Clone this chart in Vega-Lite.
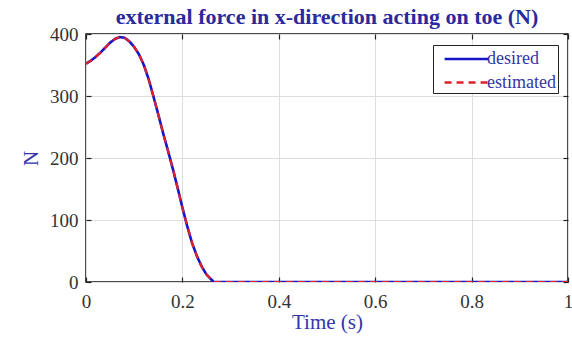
{
  "$schema": "https://vega.github.io/schema/vega-lite/v6.json",
  "autosize": {"type": "none"},
  "padding": {"left": 86, "top": 34, "right": 4, "bottom": 56},
  "width": 482,
  "height": 248,
  "background": "white",
  "title": {
    "text": "external force in x-direction acting on toe (N)",
    "font": "Liberation Serif",
    "fontSize": 22,
    "fontWeight": "bold",
    "color": "#2a2a9c",
    "offset": -4,
    "anchor": "middle"
  },
  "datasets": {
    "force": [
      {"t": 0.0, "v": 352, "series": "desired"},
      {"t": 0.01, "v": 357, "series": "desired"},
      {"t": 0.02, "v": 363, "series": "desired"},
      {"t": 0.03, "v": 370, "series": "desired"},
      {"t": 0.04, "v": 378, "series": "desired"},
      {"t": 0.05, "v": 386, "series": "desired"},
      {"t": 0.06, "v": 392, "series": "desired"},
      {"t": 0.07, "v": 395, "series": "desired"},
      {"t": 0.08, "v": 394, "series": "desired"},
      {"t": 0.09, "v": 388, "series": "desired"},
      {"t": 0.1, "v": 379, "series": "desired"},
      {"t": 0.11, "v": 367, "series": "desired"},
      {"t": 0.12, "v": 350, "series": "desired"},
      {"t": 0.13, "v": 327, "series": "desired"},
      {"t": 0.14, "v": 299, "series": "desired"},
      {"t": 0.15, "v": 270, "series": "desired"},
      {"t": 0.16, "v": 240, "series": "desired"},
      {"t": 0.17, "v": 212, "series": "desired"},
      {"t": 0.18, "v": 183, "series": "desired"},
      {"t": 0.19, "v": 152, "series": "desired"},
      {"t": 0.2, "v": 120, "series": "desired"},
      {"t": 0.21, "v": 90, "series": "desired"},
      {"t": 0.22, "v": 63, "series": "desired"},
      {"t": 0.23, "v": 42, "series": "desired"},
      {"t": 0.24, "v": 25, "series": "desired"},
      {"t": 0.25, "v": 12, "series": "desired"},
      {"t": 0.265, "v": 0, "series": "desired"},
      {"t": 0.4, "v": 0, "series": "desired"},
      {"t": 0.6, "v": 0, "series": "desired"},
      {"t": 0.8, "v": 0, "series": "desired"},
      {"t": 1.0, "v": 0, "series": "desired"},
      {"t": 0.0, "v": 352, "series": "estimated"},
      {"t": 0.01, "v": 357, "series": "estimated"},
      {"t": 0.02, "v": 363, "series": "estimated"},
      {"t": 0.03, "v": 370, "series": "estimated"},
      {"t": 0.04, "v": 378, "series": "estimated"},
      {"t": 0.05, "v": 386, "series": "estimated"},
      {"t": 0.06, "v": 392, "series": "estimated"},
      {"t": 0.07, "v": 395, "series": "estimated"},
      {"t": 0.08, "v": 394, "series": "estimated"},
      {"t": 0.09, "v": 388, "series": "estimated"},
      {"t": 0.1, "v": 379, "series": "estimated"},
      {"t": 0.11, "v": 367, "series": "estimated"},
      {"t": 0.12, "v": 350, "series": "estimated"},
      {"t": 0.13, "v": 327, "series": "estimated"},
      {"t": 0.14, "v": 299, "series": "estimated"},
      {"t": 0.15, "v": 270, "series": "estimated"},
      {"t": 0.16, "v": 240, "series": "estimated"},
      {"t": 0.17, "v": 212, "series": "estimated"},
      {"t": 0.18, "v": 183, "series": "estimated"},
      {"t": 0.19, "v": 152, "series": "estimated"},
      {"t": 0.2, "v": 120, "series": "estimated"},
      {"t": 0.21, "v": 90, "series": "estimated"},
      {"t": 0.22, "v": 63, "series": "estimated"},
      {"t": 0.23, "v": 42, "series": "estimated"},
      {"t": 0.24, "v": 25, "series": "estimated"},
      {"t": 0.25, "v": 12, "series": "estimated"},
      {"t": 0.265, "v": 0, "series": "estimated"},
      {"t": 0.4, "v": 0, "series": "estimated"},
      {"t": 0.6, "v": 0, "series": "estimated"},
      {"t": 0.8, "v": 0, "series": "estimated"},
      {"t": 1.0, "v": 0, "series": "estimated"}
    ]
  },
  "data": {"name": "force"},
  "layer": [
    {
      "transform": [{"filter": "datum.series === 'desired'"}],
      "mark": {"type": "line", "strokeWidth": 2.6, "clip": true},
      "encoding": {
        "x": {
          "field": "t", "type": "quantitative",
          "scale": {"domain": [0, 1], "nice": false, "zero": false},
          "axis": {
            "title": "Time (s)", "values": [0, 0.2, 0.4, 0.6, 0.8, 1],
            "format": "~g", "orient": "bottom"
          }
        },
        "y": {
          "field": "v", "type": "quantitative",
          "scale": {"domain": [0, 400], "nice": false},
          "axis": {"title": "N", "values": [0, 100, 200, 300, 400], "orient": "left"}
        },
        "color": {
          "field": "series", "type": "nominal",
          "scale": {"domain": ["desired", "estimated"], "range": ["#1515c8", "#e0202a"]},
          "legend": {
            "title": null, "orient": "none", "legendX": 347, "legendY": 11,
            "symbolType": "M-2,0H2", "symbolSize": 480, "symbolStrokeWidth": 2.4,
            "labelFont": "Liberation Serif", "labelFontSize": 18, "labelColor": "#3535a8",
            "strokeColor": "#222222", "fillColor": "white", "padding": 1.5,
            "rowPadding": 1.5, "labelOffset": 8, "symbolOffset": 19.5
          }
        },
        "strokeDash": {
          "field": "series", "type": "nominal",
          "scale": {"domain": ["desired", "estimated"], "range": [[1, 0], [7, 5]]},
          "legend": {
            "title": null, "orient": "none", "legendX": 347, "legendY": 11,
            "symbolType": "M-2,0H2", "symbolSize": 480, "symbolStrokeWidth": 2.4,
            "labelFont": "Liberation Serif", "labelFontSize": 18, "labelColor": "#3535a8",
            "strokeColor": "#222222", "fillColor": "white", "padding": 1.5,
            "rowPadding": 1.5, "labelOffset": 8, "symbolOffset": 19.5
          }
        }
      }
    },
    {
      "transform": [{"filter": "datum.series === 'estimated'"}],
      "mark": {"type": "line", "strokeWidth": 2.2, "clip": true},
      "encoding": {
        "x": {
          "field": "t", "type": "quantitative",
          "axis": {
            "orient": "top", "title": null, "labels": false, "grid": false,
            "values": [0, 0.2, 0.4, 0.6, 0.8, 1]
          }
        },
        "y": {
          "field": "v", "type": "quantitative",
          "axis": {
            "orient": "right", "title": null, "labels": false, "grid": false,
            "values": [0, 100, 200, 300, 400]
          }
        },
        "color": {"field": "series", "type": "nominal"},
        "strokeDash": {"field": "series", "type": "nominal"}
      }
    }
  ],
  "resolve": {"axis": {"x": "independent", "y": "independent"}},
  "config": {
    "view": {"stroke": "#111111", "strokeWidth": 1.5},
    "axis": {
      "domain": false,
      "grid": true, "gridColor": "#dedede", "gridWidth": 1,
      "tickSize": -5, "tickColor": "#222222", "tickWidth": 1.2,
      "labelFont": "Liberation Serif", "labelFontSize": 19, "labelColor": "#333333",
      "titleFont": "Liberation Serif", "titleFontSize": 21, "titleFontWeight": "normal",
      "titleColor": "#3535a8"
    },
    "axisX": {"titlePadding": 0, "labelFlush": false, "labelPadding": 15},
    "axisY": {"titlePadding": 8, "labelPadding": 13}
  }
}
